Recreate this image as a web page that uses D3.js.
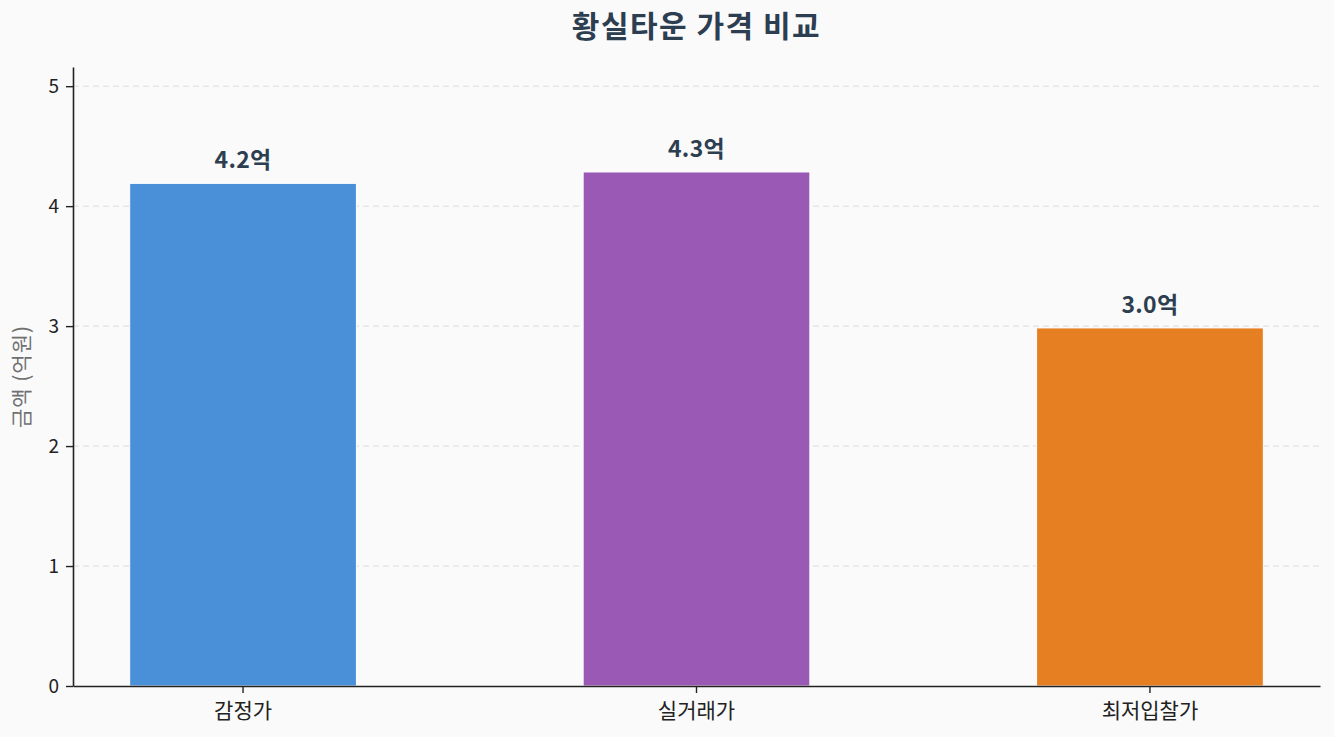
<!DOCTYPE html>
<html>
<head>
<meta charset="utf-8">
<script src="https://cdn.jsdelivr.net/npm/d3@7"></script>
<style>
  body { margin: 0; background: #fafafa; }
  text { font-family: "Noto Sans CJK KR", "Noto Sans", sans-serif; }
</style>
</head>
<body>
<svg id="chart"></svg>
<script>
const categories = ["감정가", "실거래가", "최저입찰가"];
const values = [4.19, 4.285, 2.985];
const labels = ["4.2억", "4.3억", "3.0억"];
const colors = ["#4a90d9", "#9b59b6", "#e67e22"];
const yTicks = [0, 1, 2, 3, 4, 5];

const W = 1334, H = 737;
const margin = { top: 67, right: 14, bottom: 51, left: 73 };
const width = W - margin.left - margin.right;
const height = H - margin.top - margin.bottom;

const svg = d3.select("#chart")
    .attr("width", W)
    .attr("height", H)
    .style("background", "#fafafa");

const g = svg.append("g")
    .attr("transform", `translate(${margin.left},${margin.top})`);

const x = d3.scaleBand()
    .domain(categories)
    .range([0, width])
    .paddingInner(0.5)
    .paddingOuter(0.125);

const y = d3.scaleLinear()
    .domain([0, 5.16])
    .range([height, 0]);

// grid
g.append("g")
    .selectAll("line")
    .data(yTicks.slice(1))
    .join("line")
    .attr("x1", 0)
    .attr("x2", width)
    .attr("y1", d => y(d))
    .attr("y2", d => y(d))
    .attr("stroke", "#dcdcdc")
    .attr("stroke-width", 1)
    .attr("stroke-dasharray", "6,4");

// bars
g.selectAll(".bar")
    .data(categories)
    .join("rect")
    .attr("class", "bar")
    .attr("x", d => x(d))
    .attr("width", x.bandwidth())
    .attr("y", (d, i) => y(values[i]))
    .attr("height", (d, i) => height - y(values[i]))
    .attr("fill", (d, i) => colors[i])
    .attr("stroke", "#ffffff")
    .attr("stroke-width", 1);

// value labels
g.selectAll(".val")
    .data(categories)
    .join("text")
    .attr("class", "val")
    .attr("x", d => x(d) + x.bandwidth() / 2)
    .attr("y", (d, i) => y(values[i]) - 15)
    .attr("text-anchor", "middle")
    .attr("font-size", 23)
    .attr("font-weight", "bold")
    .attr("letter-spacing", 0.3)
    .attr("fill", "#2c3e50")
    .text((d, i) => labels[i]);

// axes
const xAxis = g.append("g")
    .attr("transform", `translate(0,${height})`)
    .call(d3.axisBottom(x).tickSize(7).tickPadding(5).tickSizeOuter(0));
xAxis.selectAll("text")
    .attr("font-size", 21)
    .attr("fill", "#222")
    .attr("dy", "0.95em");

const yAxis = g.append("g")
    .call(d3.axisLeft(y).tickValues(yTicks).tickFormat(d3.format("d")).tickSize(7).tickPadding(7).tickSizeOuter(0));
yAxis.selectAll("text")
    .attr("font-size", 19)
    .attr("fill", "#222");

[xAxis, yAxis].forEach(a => {
    a.select(".domain").attr("stroke", "#222").attr("stroke-width", 1.6);
    a.selectAll(".tick line").attr("stroke", "#222").attr("stroke-width", 1.4);
});

// y axis title
svg.append("text")
    .attr("transform", `translate(29,${margin.top + y(2.58)}) rotate(-90)`)
    .attr("text-anchor", "middle")
    .attr("font-size", 21)
    .attr("letter-spacing", 1)
    .attr("fill", "#707070")
    .text("금액 (억원)");

// title
svg.append("text")
    .attr("x", margin.left + width / 2)
    .attr("y", 37)
    .attr("text-anchor", "middle")
    .attr("font-size", 30)
    .attr("font-weight", "bold")
    .attr("letter-spacing", 1.5)
    .attr("fill", "#2c3e50")
    .text("황실타운 가격 비교");
</script>
</body>
</html>
